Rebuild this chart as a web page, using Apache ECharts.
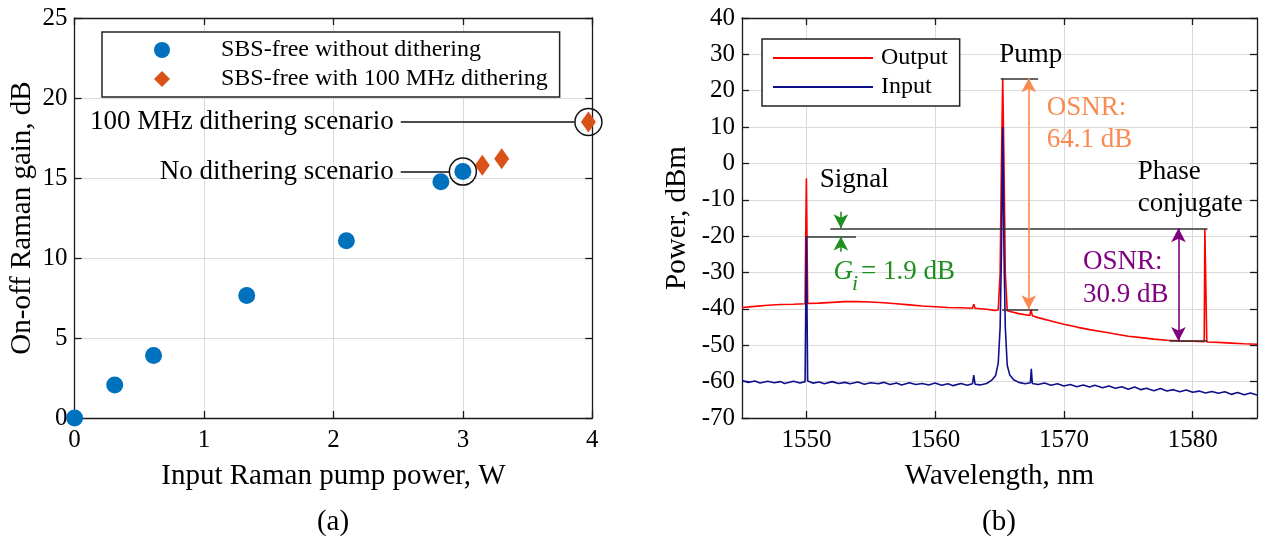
<!DOCTYPE html>
<html><head><meta charset="utf-8">
<script src="https://cdn.jsdelivr.net/npm/echarts@6/dist/echarts.min.js"></script>
<style>html,body{margin:0;padding:0;background:#fff}#c{width:1261px;height:545px}</style>
</head><body><div id="c"></div>
<script>
// ---------- Panel (a) data ----------
const pumpPowerNoDither = [0, 0.31, 0.61, 1.33, 2.10, 2.83, 3.00];
const gainNoDither      = [0, 2.06, 3.90, 7.65, 11.08, 14.77, 15.40];
const pumpPowerDither   = [3.15, 3.30, 3.97];
const gainDither        = [15.8, 16.2, 18.5];
const gainAxis  = {min: 0, max: 25, interval: 5};
const powerAxis = {min: 0, max: 4, interval: 1};

// ---------- Panel (b) data ----------
const wavelengthTicks = [1550, 1560, 1570, 1580];
const wavelengthRange = [1545, 1585];
const powerRange = {min: -70, max: 40, interval: 10};
const outputSpectrum = [
 [1545,-39.6],[1546,-39.3],[1547,-39.0],[1548,-38.8],[1549,-38.7],[1549.9,-38.6],
 [1549.95,-20],[1550,-4.1],[1550.05,-20],[1550.1,-38.5],
 [1551,-38.4],[1552,-38.2],[1553,-38.0],[1554,-38.0],[1555,-38.1],[1556,-38.3],
 [1557,-38.6],[1558,-38.9],[1559,-39.2],[1560,-39.4],[1561,-39.6],[1562,-39.7],
 [1562.9,-39.8],[1563,-38.7],[1563.1,-39.8],[1564,-40.1],[1564.6,-40.4],[1564.9,-40.3],
 [1565.05,-30],[1565.15,0],[1565.25,23.4],[1565.35,0],[1565.45,-30],
 [1565.6,-40.5],[1565.9,-40.8],[1566.5,-41.3],[1567.35,-41.8],[1567.45,-40.2],[1567.55,-41.9],
 [1568,-42.4],[1569,-43.3],[1570,-44.2],[1571,-45.0],[1572,-45.7],[1573,-46.3],
 [1574,-46.9],[1575,-47.5],[1576,-47.9],[1577,-48.3],[1578,-48.6],[1579,-48.8],
 [1580,-48.9],[1580.9,-49.0],[1580.95,-18],[1581.05,-18],[1581.1,-49.1],
 [1582,-49.2],[1583,-49.4],[1584,-49.6],[1585,-49.7]
];
const inputSpectrum = [
 [1545,-59.7],[1545.5,-60.2],[1546,-59.8],[1546.4,-60.4],[1547,-59.9],[1547.5,-60.3],
 [1548,-60.0],[1548.3,-60.5],[1549,-59.9],[1549.5,-60.4],[1549.9,-60.0],
 [1549.95,-40],[1550,-20.0],[1550.05,-40],[1550.1,-59.8],
 [1550.5,-60.4],[1551,-60.1],[1551.4,-60.6],[1552,-60.0],[1552.5,-60.5],[1553,-60.2],
 [1553.4,-60.6],[1554,-60.1],[1554.5,-60.7],[1555,-60.3],[1555.6,-60.6],[1556,-60.2],
 [1556.5,-60.8],[1557,-60.4],[1557.4,-60.9],[1558,-60.3],[1558.5,-60.8],[1559,-60.5],
 [1559.5,-60.9],[1560,-60.4],[1560.5,-61.0],[1561,-60.6],[1561.4,-61.1],[1562,-60.5],
 [1562.5,-61.0],[1562.9,-60.6],[1563,-58.2],[1563.1,-60.7],[1563.5,-60.9],[1564,-60.5],
 [1564.4,-59.6],[1564.7,-58.3],[1564.9,-55.0],[1565.05,-45],[1565.15,-25],[1565.25,10.0],
 [1565.35,-25],[1565.45,-45],[1565.6,-55.5],[1565.8,-58.2],[1566.1,-59.5],[1566.5,-60.2],
 [1567,-60.6],[1567.4,-60.3],[1567.47,-56.5],[1567.55,-60.5],[1568,-60.8],[1568.5,-60.4],
 [1569,-61.0],[1569.5,-60.6],[1570,-61.2],[1570.5,-60.8],[1571,-61.4],[1571.5,-60.9],
 [1572,-61.5],[1572.4,-61.0],[1573,-61.7],[1573.5,-61.2],[1574,-61.8],[1574.5,-61.4],
 [1575,-62.1],[1575.5,-61.5],[1576,-62.2],[1576.4,-61.8],[1577,-62.5],[1577.5,-61.9],
 [1578,-62.6],[1578.5,-62.2],[1579,-62.8],[1579.5,-62.3],[1580,-62.9],[1580.5,-62.6],
 [1581,-63.1],[1581.5,-62.7],[1582,-63.2],[1582.5,-62.8],[1583,-63.5],[1583.5,-63.0],
 [1584,-63.6],[1584.5,-63.1],[1585,-63.7]
];

const FONT = 'Liberation Serif';
const BLACK = '#1a1a1a';
const ORANGE = '#fa8a50', PURPLE = '#800080', GREEN = '#1f8f1f';

function mainAxis(pos, gridIndex, extra) {
  return Object.assign({
    type: 'value', gridIndex, position: pos,
    axisLine: {show: true, onZero: false, lineStyle: {color: BLACK, width: 1.3}},
    axisTick: {show: true, inside: true, length: 7, lineStyle: {color: BLACK, width: 1.3}},
    axisLabel: {show: true, color: '#000', fontFamily: FONT, fontSize: 25},
    splitLine: {show: true, lineStyle: {color: '#dadada', width: 1}},
    nameLocation: 'middle',
    nameTextStyle: {color: '#000', fontFamily: FONT, fontSize: 29}
  }, extra);
}
function mirrorAxis(pos, gridIndex, extra) {
  return Object.assign({
    type: 'value', gridIndex, position: pos,
    axisLine: {show: true, onZero: false, lineStyle: {color: BLACK, width: 1.3}},
    axisTick: {show: true, inside: true, length: 7, lineStyle: {color: BLACK, width: 1.3}},
    axisLabel: {show: false},
    splitLine: {show: false}
  }, extra);
}

const txt = (c, size) => ({color: c, fontFamily: FONT, fontSize: size || 27});
function note(coord, text, color, lh) {
  return {
    coord, symbol: 'circle', symbolSize: 1, itemStyle: {color: 'rgba(0,0,0,0)'},
    label: Object.assign({show: true, position: 'right', distance: 0, formatter: text, lineHeight: lh || 32}, txt(color))
  };
}
function seg(a, b, color, s0, s1) {
  return [
    {coord: a, symbol: s0 || 'none', lineStyle: {color: color || '#333', width: 1.6, type: 'solid'}},
    {coord: b, symbol: s1 || 'none'}
  ];
}

const option = {
  animation: false,
  backgroundColor: '#fff',
  grid: [
    {left: 74.6, top: 18, width: 517.7, height: 400, outerBoundsMode: 'none', containLabel: false},
    {left: 742, top: 18, width: 515, height: 400, outerBoundsMode: 'none', containLabel: false}
  ],
  xAxis: [
    mainAxis('bottom', 0, Object.assign({name: 'Input Raman pump power, W', nameGap: 44,
      axisLabel: {color: '#000', fontFamily: FONT, fontSize: 25, margin: 10}}, powerAxis)),
    mirrorAxis('top', 0, Object.assign({}, powerAxis)),
    mainAxis('bottom', 1, {name: 'Wavelength, nm', nameGap: 44, min: wavelengthRange[0], max: wavelengthRange[1],
      axisLabel: {color: '#000', fontFamily: FONT, fontSize: 25, margin: 10, customValues: wavelengthTicks,
        formatter: v => String(v)},
      axisTick: {show: true, inside: true, length: 7, lineStyle: {color: BLACK, width: 1.3}, customValues: wavelengthTicks}}),
    mirrorAxis('top', 1, {min: wavelengthRange[0], max: wavelengthRange[1],
      axisTick: {show: true, inside: true, length: 7, lineStyle: {color: BLACK, width: 1.3}, customValues: wavelengthTicks}})
  ],
  yAxis: [
    mainAxis('left', 0, Object.assign({name: 'On-off Raman gain, dB', nameGap: 38,
      axisLabel: {color: '#000', fontFamily: FONT, fontSize: 25, margin: 7}}, gainAxis)),
    mirrorAxis('right', 0, Object.assign({}, gainAxis)),
    mainAxis('left', 1, Object.assign({name: 'Power, dBm', nameGap: 50,
      axisLabel: {color: '#000', fontFamily: FONT, fontSize: 25, margin: 7}}, powerRange)),
    mirrorAxis('right', 1, Object.assign({}, powerRange))
  ],
  legend: [
    {
      left: 102, top: 32, orient: 'vertical', itemWidth: 16, itemHeight: 16, itemGap: 3,
      padding: [5, 12, 5, 52], borderColor: '#222', borderWidth: 1.5, backgroundColor: '#fff',
      data: [{name: 'SBS-free without dithering', icon: 'circle'}, {name: 'SBS-free with 100 MHz dithering', icon: 'diamond'}],
      textStyle: {color: '#000', fontFamily: FONT, fontSize: 24, lineHeight: 26, padding: [0, 0, 0, 46]}
    },
    {
      left: 762, top: 39, orient: 'vertical', itemWidth: 100, itemHeight: 2, itemGap: 3,
      padding: [6, 12, 6, 11], borderColor: '#222', borderWidth: 1.5, backgroundColor: '#fff',
      data: [{name: 'Output', icon: 'rect'}, {name: 'Input', icon: 'rect'}],
      textStyle: {color: '#000', fontFamily: FONT, fontSize: 24, lineHeight: 26, padding: [0, 0, 0, 3]}
    }
  ],
  graphic: [
    {type: 'text', x: 333, y: 522, style: {text: '(a)', fontFamily: FONT, fontSize: 29, fill: '#000', align: 'center', verticalAlign: 'middle'}},
    {type: 'text', x: 999, y: 522, style: {text: '(b)', fontFamily: FONT, fontSize: 29, fill: '#000', align: 'center', verticalAlign: 'middle'}}
  ],
  series: [
    {
      name: 'SBS-free without dithering', type: 'scatter', xAxisIndex: 0, yAxisIndex: 0, clip: false,
      symbol: 'circle', symbolSize: 17, itemStyle: {color: '#0072BD', opacity: 1},
      data: pumpPowerNoDither.map((p, i) => [p, gainNoDither[i]]),
      markPoint: {
        silent: true, symbol: 'circle', symbolSize: 27,
        itemStyle: {color: 'rgba(0,0,0,0)', borderColor: '#111', borderWidth: 1.5},
        label: {show: false},
        data: [{coord: [pumpPowerNoDither[6], gainNoDither[6]]}]
      },
      markLine: {
        silent: true, symbol: ['none', 'none'],
        lineStyle: {color: '#111', width: 1.6, type: 'solid'},
        label: Object.assign({show: true, position: 'start', distance: 7}, txt('#000')),
        data: [
          [{coord: [2.52, 18.5], label: {formatter: '100 MHz dithering scenario'}}, {coord: [3.86, 18.5]}],
          [{coord: [2.52, 15.4], label: {formatter: 'No dithering scenario'}}, {coord: [2.90, 15.4]}]
        ]
      }
    },
    {
      name: 'SBS-free with 100 MHz dithering', type: 'scatter', xAxisIndex: 0, yAxisIndex: 0, clip: false,
      symbol: 'diamond', symbolSize: [15, 21], itemStyle: {color: '#D95319', opacity: 1},
      data: pumpPowerDither.map((p, i) => [p, gainDither[i]]),
      markPoint: {
        silent: true, symbol: 'circle', symbolSize: 27,
        itemStyle: {color: 'rgba(0,0,0,0)', borderColor: '#111', borderWidth: 1.5},
        label: {show: false},
        data: [{coord: [pumpPowerDither[2], gainDither[2]]}]
      }
    },
    {
      name: 'Output', type: 'line', xAxisIndex: 2, yAxisIndex: 2, showSymbol: false, symbol: 'none',
      lineStyle: {color: '#ff0000', width: 1.6}, itemStyle: {color: '#ff0000'},
      data: outputSpectrum
    },
    {
      name: 'Input', type: 'line', xAxisIndex: 2, yAxisIndex: 2, showSymbol: false, symbol: 'none',
      lineStyle: {color: '#10108c', width: 1.6}, itemStyle: {color: '#10108c'},
      data: inputSpectrum,
      markLine: {
        silent: true, symbolSize: [11, 14], label: {show: false},
        data: [
          seg([1565.1, 23.4], [1568.0, 23.4]),
          seg([1565.2, -40.1], [1568.0, -40.1]),
          seg([1551.86, -17.85], [1581.15, -17.85]),
          seg([1549.95, -20.1], [1553.85, -20.1]),
          seg([1578.2, -48.8], [1581.15, -48.8]),
          seg([1567.27, 23.4], [1567.27, -40.1], ORANGE, 'arrow', 'arrow'),
          seg([1578.9, -17.85], [1578.9, -48.8], PURPLE, 'arrow', 'arrow'),
          seg([1552.68, -13.3], [1552.68, -17.85], GREEN, 'none', 'arrow'),
          seg([1552.68, -24.3], [1552.68, -20.1], GREEN, 'none', 'arrow')
        ]
      },
      markPoint: {
        silent: true,
        data: [
          note([1551.0, -4.4], 'Signal', '#000'),
          note([1564.94, 29.8], 'Pump', '#000'),
          note([1575.7, -6.7], 'Phase\nconjugate', '#000', 32),
          note([1568.63, 10.85], 'OSNR:\n64.1 dB', ORANGE, 32),
          note([1571.45, -31.6], 'OSNR:\n30.9 dB', PURPLE, 33),
          {coord: [1552.06, -29.9], symbol: 'circle', symbolSize: 1, itemStyle: {color: 'rgba(0,0,0,0)'},
           label: Object.assign({show: true, position: 'right', distance: 0, formatter: 'G', fontStyle: 'italic'}, txt(GREEN))},
          {coord: [1553.5, -33.2], symbol: 'circle', symbolSize: 1, itemStyle: {color: 'rgba(0,0,0,0)'},
           label: Object.assign({show: true, position: 'right', distance: 0, formatter: 'i', fontStyle: 'italic'}, txt(GREEN, 22))},
          note([1554.2, -29.9], '= 1.9 dB', GREEN)
        ]
      }
    }
  ]
};

const chart = echarts.init(document.getElementById('c'), null, {renderer: 'canvas'});
chart.setOption(option);
</script>
</body></html>
